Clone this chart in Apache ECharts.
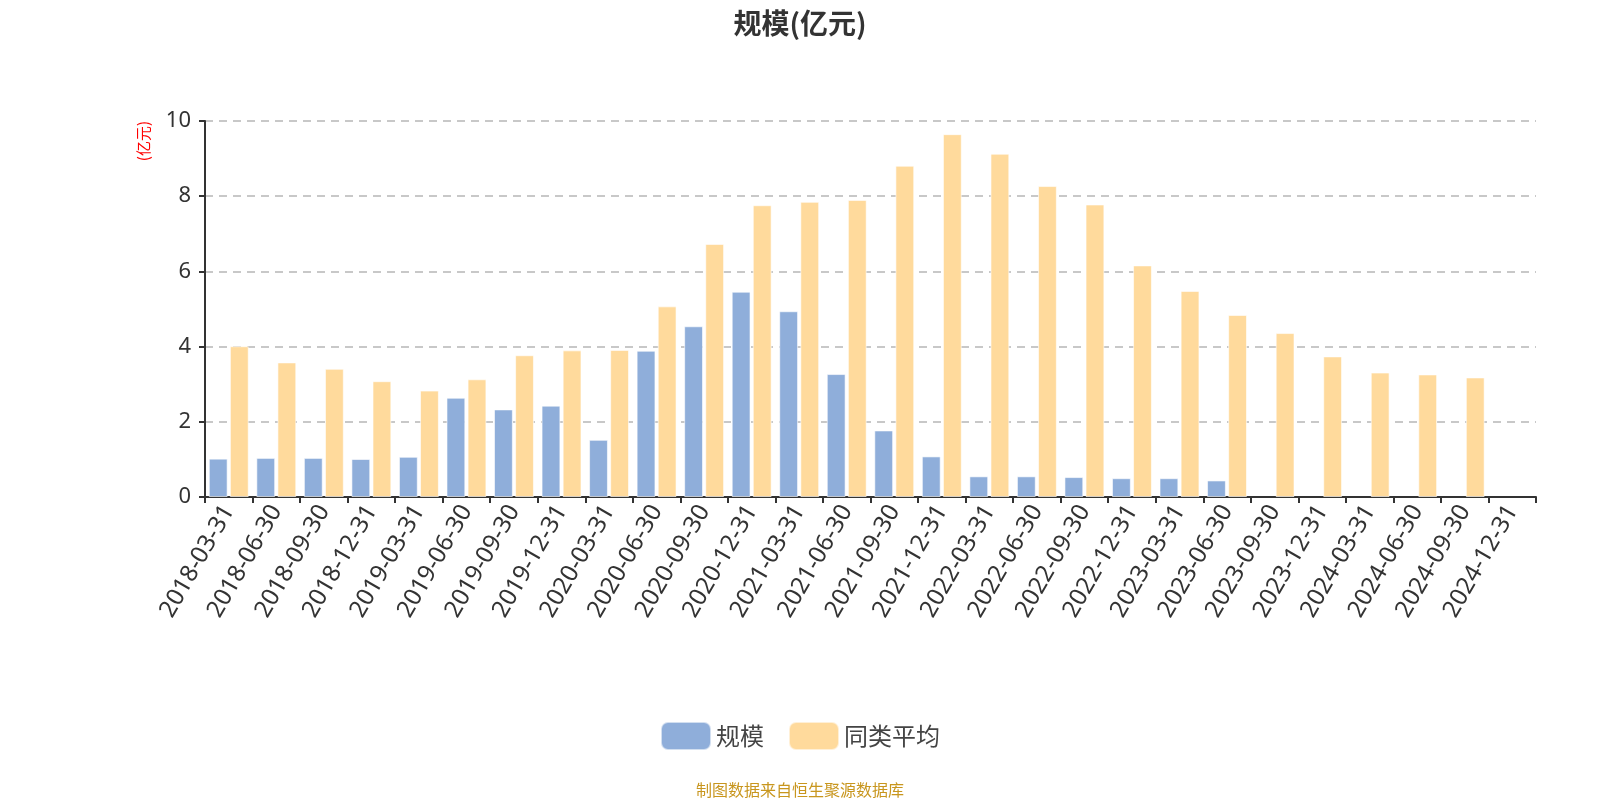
<!DOCTYPE html>
<html>
<head>
<meta charset="utf-8">
<script src="https://cdn.jsdelivr.net/npm/echarts@6/dist/echarts.min.js"></script>
<style>html,body{margin:0;padding:0;background:#fff;}#c{width:1600px;height:800px;}</style>
</head>
<body>
<div id="c"></div>
<script>
var categories = ['2018-03-31','2018-06-30','2018-09-30','2018-12-31','2019-03-31','2019-06-30','2019-09-30','2019-12-31','2020-03-31','2020-06-30','2020-09-30','2020-12-31','2021-03-31','2021-06-30','2021-09-30','2021-12-31','2022-03-31','2022-06-30','2022-09-30','2022-12-31','2023-03-31','2023-06-30','2023-09-30','2023-12-31','2024-03-31','2024-06-30','2024-09-30','2024-12-31'];
var scaleValues = [1.02,1.04,1.04,1.01,1.07,2.64,2.33,2.43,1.52,3.89,4.54,5.46,4.94,3.27,1.77,1.08,0.55,0.55,0.53,0.50,0.50,0.44,null,null,null,null,null,null];
var avgValues = [4.01,3.58,3.41,3.08,2.83,3.13,3.77,3.90,3.91,5.07,6.73,7.76,7.85,7.90,8.81,9.65,9.13,8.27,7.78,6.16,5.48,4.84,4.36,3.74,3.31,3.26,3.18,null];
var yTicks = [0,2,4,6,8,10];

var chart = echarts.init(document.getElementById('c'));
chart.setOption({
  animation: false,
  title: {
    text: '规模(亿元)', left: 'center', top: 4,
    textStyle: {fontSize: 28, fontWeight: 'bold', color: '#333', fontFamily: 'Noto Sans CJK SC'}
  },
  legend: {
    bottom: 44, left: 'center', itemWidth: 50, itemHeight: 28, itemGap: 24,
    textStyle: {fontSize: 24, color: '#444', fontFamily: 'Noto Sans CJK SC'},
    data: ['规模', '同类平均']
  },
  graphic: [{
    type: 'text', left: 'center', top: 782,
    style: {text: '制图数据来自恒生聚源数据库', fill: '#C8961E', fontSize: 16, fontFamily: 'Noto Sans CJK SC'}
  }],
  grid: {left: 205, right: 64, top: 121, height: 376},
  xAxis: {
    type: 'category', data: categories,
    axisLine: {lineStyle: {color: '#333', width: 2}},
    axisTick: {show: true, alignWithLabel: false, length: 6, lineStyle: {color: '#333', width: 2}},
    axisLabel: {rotate: 60, fontSize: 24, color: '#333', interval: 0, margin: 10, fontFamily: 'Noto Sans'}
  },
  yAxis: {
    type: 'value', min: 0, max: 10, interval: 2,
    name: '(亿元)', nameLocation: 'end', nameRotate: 90,
    nameGap: 0,
    nameTextStyle: {color: 'red', fontSize: 15, fontFamily: 'Noto Sans CJK SC', align: 'right', verticalAlign: 'bottom', padding: [0, 0, 54, 0]},
    axisLine: {show: true, lineStyle: {color: '#333', width: 2}},
    axisTick: {show: true, length: 6, lineStyle: {color: '#333', width: 2}},
    axisLabel: {fontSize: 22, color: '#333', margin: 14, fontFamily: 'Noto Sans',
      formatter: function (v) { return yTicks.indexOf(v) >= 0 ? String(v) : ''; }},
    splitLine: {show: true, lineStyle: {color: '#c8c8c8', type: [8, 6], width: 2}}
  },
  series: [
    {name: '规模', type: 'bar', data: scaleValues, barGap: '12%', barCategoryGap: '16%',
     itemStyle: {color: '#8FAEDA', borderColor: 'rgba(255,255,255,0.6)', borderWidth: 1}},
    {name: '同类平均', type: 'bar', data: avgValues,
     itemStyle: {color: '#FFDA9C', borderColor: 'rgba(255,255,255,0.6)', borderWidth: 1}}
  ]
});
</script>
</body>
</html>
